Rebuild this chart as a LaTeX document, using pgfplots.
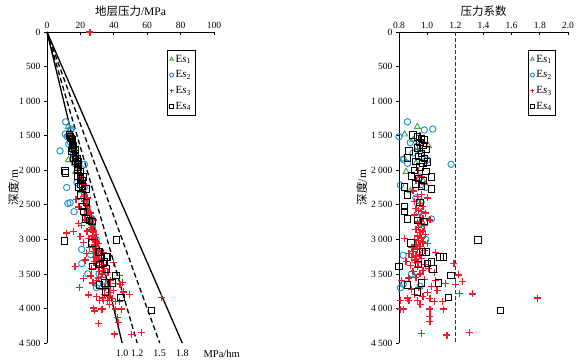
\documentclass[border=0pt]{standalone}
\usepackage{fontspec}
\setmainfont{Liberation Serif}
\newfontfamily\cjk{Noto Sans CJK SC}
\usepackage{pgfplots}
\pgfplotsset{compat=1.18}
\definecolor{cgreen}{RGB}{55,170,70}
\definecolor{cblue}{RGB}{20,140,210}
\definecolor{cred}{RGB}{238,28,42}
\tikzset{bl/.style={font=\fontsize{10}{11}\selectfont, anchor=north, inner sep=1pt, yshift=-6pt}}
\pgfplotsset{
  mybase/.style={
    scale only axis, height=311pt, y dir=reverse, ymin=0, ymax=4500,
    axis x line*=top, axis y line*=left, clip=false,
    axis line style={black, line width=0.8pt},
    xtick align=inside, ytick align=outside, major tick length=3pt,
    tick style={black, line width=0.7pt},
    /pgf/number format/assume math mode=true,
    ticklabel style={font=\fontsize{9.5}{10}\selectfont},
    ytick={0,500,...,4500},
    yticklabels={0,500,1 000,1 500,2 000,2 500,3 000,3 500,4 000,4 500},
    ylabel={\cjk 深度}/m,
    label style={font=\fontsize{11.5}{12}\selectfont},
    xlabel style={yshift=-1pt},
    legend style={draw=black, line width=0.8pt, font=\fontsize{11}{12}\selectfont,
      inner xsep=2pt, inner ysep=2.5pt, row sep=3pt, cells={anchor=west}},
    legend image code/.code={\draw[mark repeat=2,mark phase=2] plot coordinates {(0cm,0cm) (0.25cm,0cm) (0.5cm,0cm)};},
    legend image post style={mark size=2pt},
    legend cell align=left,
  },
  s1/.style={only marks, mark=triangle, mark size=3.4pt, cgreen, line width=0.9pt},
  s2/.style={only marks, mark=o, mark size=3.2pt, cblue, line width=0.9pt},
  s3/.style={only marks, mark=+, mark size=3.5pt, cred, line width=1.3pt},
  s4/.style={only marks, mark=square, mark size=3.2pt, black, line width=0.9pt},
}
\newcommand{\es}[1]{E\textit{s}\textsubscript{#1}\hspace{2.5pt}}
\begin{document}
\begin{tikzpicture}
\useasboundingbox (0,0) rectangle (580pt,-363pt);
% ================= LEFT =================
\begin{axis}[mybase, at={(47pt,-32pt)}, anchor=north west, width=167pt,
  xmin=0, xmax=100, xtick={0,20,...,100},
  xlabel={{\cjk 地层压力}/MPa},
  ylabel style={at={(axis description cs:-0.2,0.5)}, anchor=center},
  legend style={at={(0.72,0.942)}, anchor=north west}]
\addplot[black, line width=1.3pt, forget plot] coordinates {(0,0) (45,4500)};
\addplot[black, line width=1.3pt, dash pattern=on 5pt off 3pt, forget plot] coordinates {(0,0) (54,4500)};
\addplot[black, line width=1.3pt, dash pattern=on 5pt off 3pt, forget plot] coordinates {(0,0) (67.5,4500)};
\addplot[black, line width=1.3pt, forget plot] coordinates {(0,0) (81,4500)};
\addplot[s1] table {
P D
12.7 1370
12.4 1480
16.7 1650
17.2 2020
15.3 1840
14.0 1560
16.2 1700
17.5 1900
20.9 2150
20.2 2300
23.5 2450
12.8 1850
};
\addlegendentry{\es{1}}
\addplot[s2] table {
P D
11.2 1300
12.1 1515
14.6 1404
13.9 1418
22.4 1915
15.3 1840
14.1 1600
15.3 1650
15.8 1750
17.3 1800
18.5 1850
16.3 1900
17.9 2180
20.0 2100
22.3 2250
22.1 2400
24.4 2600
27.0 2700
27.4 2850
29.4 3000
26.1 3220
30.0 3300
29.6 3700
30.3 3650
35.0 3680
31.2 3500
11.0 1475
7.8 1720
11.8 2250
13.8 2470
16.2 2600
20.8 3145
20.8 3350
24.4 3500
13.0 1620
12.5 2480
};
\addlegendentry{\es{2}}
\addplot[s3] table {
P D
25.7 0
14.3 1500
15.5 1600
15.8 1700
17.3 1800
18.6 1900
18.8 2000
20.2 2100
19.8 2150
21.6 2200
21.2 2250
20.7 2300
22.6 2350
22.1 2380
24.0 2400
22.3 2450
23.6 2480
24.4 2520
23.5 2550
24.3 2580
25.0 2600
25.9 2620
24.1 2650
25.5 2680
26.2 2700
27.7 2720
25.6 2750
26.7 2780
27.4 2800
26.6 2830
26.3 2860
27.9 2880
27.6 2900
29.0 2930
27.4 2950
28.6 2980
25.1 2990
27.3 3000
28.4 3020
29.5 3040
30.6 3060
28.3 3080
29.5 3100
27.8 3120
29.2 3140
31.0 3160
28.6 3180
27.8 3200
30.6 3220
29.8 3240
33.8 3190
29.0 3260
31.5 3280
30.0 3300
28.2 3320
31.4 3340
33.3 3360
29.7 3380
31.6 3400
34.5 3420
33.5 3450
31.2 3470
36.5 3480
33.3 3500
39.7 3335
43.3 3520
45.3 3620
43.8 3650
45.9 3760
49.4 3800
32.7 3550
31.0 3560
35.1 3580
38.2 3600
29.5 3600
37.9 3680
34.8 3700
33.1 3720
40.0 3740
37.7 3770
34.6 3800
37.2 3830
33.1 3850
39.4 3860
36.1 3880
31.4 3880
33.8 3880
41.0 3900
37.4 3940
33.3 4010
32.5 4010
40.9 4010
44.5 4010
42.1 4130
42.8 4200
40.6 4370
50.4 4380
56.6 4350
68.4 3845
43.3 3900
41.1 3640
11.8 2910
15.8 2890
19.8 2960
18.7 2770
20.8 2800
22.8 2720
16.8 3395
19.4 3695
24.7 3805
29.6 3830
30.7 4215
27.7 3995
28.5 4035
22.8 3300
21.8 3050
23.8 3200
26.3 3530
27.5 3630
21.8 3570
17.4 2420
18.7 2530
24.0 2880
25.5 3120
26.8 3420
22.5 2650
};
\addlegendentry{\es{3}}
\addplot[s4] table {
P D
13.4 1490
14.1 1520
14.8 1540
15.3 1560
15.2 1600
15.9 1640
15.6 1680
16.8 1700
15.0 1720
16.9 1760
16.9 1800
17.9 1830
15.7 1820
17.2 1870
18.4 1900
18.8 1880
18.5 1950
18.2 2000
20.0 2020
18.5 2080
21.6 2095
19.9 2120
20.9 2150
18.8 2240
23.4 2270
21.4 2230
20.2 2200
20.3 2355
23.5 2470
21.2 2520
21.8 2600
23.3 2705
25.4 2730
26.9 2745
27.0 3050
30.7 3180
31.5 3180
35.5 3255
36.3 3255
31.6 3360
33.5 3350
34.3 3330
27.2 3395
35.7 3430
41.2 3525
31.5 3660
34.8 3630
39.2 3630
35.0 3760
44.2 3840
41.7 3010
62.7 4025
10.4 3025
10.8 2010
11.2 2040
};
\addlegendentry{\es{4}}
\node[bl] at (axis cs:45,4500) {1.0};
\node[bl] at (axis cs:54,4500) {1.2};
\node[bl] at (axis cs:67.5,4500) {1.5};
\node[bl] at (axis cs:81,4500) {1.8};
\node[bl, font=\fontsize{10.5}{11}\selectfont] at (axis cs:104.6,4500) {MPa/hm};
\end{axis}
% ================= RIGHT =================
\begin{axis}[mybase, at={(399pt,-32pt)}, anchor=north west, width=169pt,
  xmin=0.8, xmax=2.0, xtick={0.8,1.0,...,2.0},
  xticklabels={0.8,1.0,1.2,1.4,1.6,1.8,2.0},
  xlabel={\cjk 压力系数},
  ylabel style={at={(axis description cs:-0.22,0.5)}, anchor=center},
  legend style={at={(0.763,0.942)}, anchor=north west}]
\addplot[black!80, line width=1.2pt, dash pattern=on 4pt off 2pt, forget plot] coordinates {(1.2,0) (1.2,4500)};
\addplot[s1] table {
c D
0.93 1370
0.84 1480
1.01 1650
0.85 2020
0.83 1840
0.90 1560
0.95 1700
0.92 1900
0.97 2150
0.88 2300
0.96 2450
};
\addlegendentry{\es{1}}
\addplot[s2] table {
c D
0.86 1300
0.80 1515
1.04 1404
0.98 1418
1.17 1915
0.83 1840
0.88 1600
0.93 1650
0.90 1750
0.96 1800
1.00 1850
0.86 1900
0.81 2215
0.95 2100
0.99 2250
0.92 2400
0.94 2600
1.03 2705
0.96 2850
0.99 3000
0.83 3230
0.91 3300
0.81 3700
0.83 3650
0.95 3680
0.89 3500
};
\addlegendentry{\es{2}}
\addplot[s3] table {
c D
0.95 1500
0.97 1600
0.93 1700
0.96 1800
0.98 1900
0.94 2000
0.96 2100
0.92 2150
0.98 2200
0.94 2250
0.90 2300
0.96 2350
0.93 2380
1.00 2400
0.91 2450
0.95 2480
0.97 2520
0.92 2550
0.94 2580
0.96 2600
0.99 2620
0.91 2650
0.95 2680
0.97 2700
1.02 2720
0.93 2750
0.96 2780
0.98 2800
0.94 2830
0.92 2860
0.97 2880
0.95 2900
0.99 2930
0.93 2950
0.96 2980
0.84 2990
0.91 3000
0.94 3020
0.97 3040
1.00 3060
0.92 3080
0.95 3100
0.89 3120
0.93 3140
0.98 3160
0.90 3180
0.87 3200
0.95 3220
0.92 3240
1.06 3190
0.89 3260
0.96 3280
0.91 3300
0.85 3320
0.94 3340
0.99 3360
0.88 3380
0.93 3400
1.01 3420
0.97 3450
0.90 3470
1.05 3480
0.95 3500
1.19 3345
1.22 3515
1.25 3610
1.20 3650
1.23 3780
1.32 3790
0.92 3550
0.87 3560
0.98 3580
1.06 3600
0.82 3600
1.03 3680
0.94 3700
0.89 3720
1.07 3740
1.00 3770
0.91 3800
0.97 3830
0.86 3850
1.02 3860
0.93 3880
0.81 3880
0.87 3880
1.05 3900
0.95 3940
0.83 4010
0.81 4010
1.02 4010
1.115 4010
1.02 4120
1.02 4190
0.96 4360
1.14 4385
1.30 4350
1.785 3850
1.11 3900
1.13 3640
};
\addlegendentry{\es{3}}
\addplot[s4] table {
c D
0.90 1490
0.93 1520
0.96 1540
0.98 1560
0.95 1600
0.97 1640
0.93 1680
0.99 1700
0.87 1720
0.96 1760
0.94 1800
0.98 1830
0.86 1820
0.92 1870
0.97 1900
1.00 1880
0.95 1950
0.91 2000
0.99 2020
0.89 2080
1.03 2095
0.94 2120
0.97 2150
0.84 2240
1.03 2270
0.96 2230
0.92 2200
0.86 2355
0.95 2470
0.84 2520
0.84 2600
0.86 2705
0.93 2730
0.98 2745
0.885 3050
0.965 3180
0.99 3180
1.09 3255
1.115 3255
0.94 3360
1.00 3350
1.03 3330
0.80 3395
1.04 3430
1.17 3525
0.86 3660
0.96 3630
1.08 3630
0.93 3760
1.15 3840
1.36 3010
1.52 4025
};
\addlegendentry{\es{4}}
\end{axis}
\end{tikzpicture}
\end{document}
